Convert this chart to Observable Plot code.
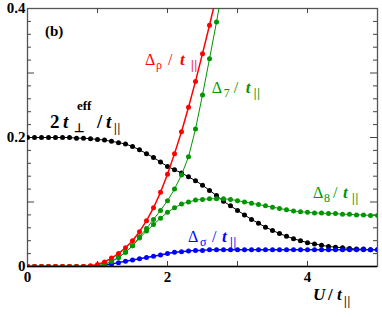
<!DOCTYPE html>
<html><head><meta charset="utf-8">
<script src="https://cdn.jsdelivr.net/npm/d3@7"></script>
<script src="https://cdn.jsdelivr.net/npm/@observablehq/plot@0.6"></script>
<style>body{margin:0;background:#fff}</style>
</head><body><div id="chart"></div>
<script>
// U / t_par grid
const U = [0.0,0.1,0.2,0.3,0.4,0.5,0.6,0.7,0.8,0.9,1.0,1.1,1.2,1.3,1.4,1.5,1.6,1.7,1.8,1.9,2.0,2.1,2.2,2.3,2.4,2.5,2.6,2.7,2.8,2.9,3.0,3.1,3.2,3.3,3.4,3.5,3.6,3.7,3.8,3.9,4.0,4.1,4.2,4.3,4.4,4.5,4.6,4.7,4.8,4.9,5.0];
// 2 t_perp^eff / t_par
const tEff = [0.200,0.200,0.200,0.200,0.200,0.200,0.200,0.199,0.199,0.198,0.197,0.196,0.194,0.192,0.190,0.186,0.181,0.175,0.169,0.162,0.155,0.150,0.145,0.139,0.133,0.126,0.118,0.110,0.101,0.094,0.087,0.080,0.073,0.067,0.061,0.056,0.051,0.047,0.043,0.040,0.037,0.035,0.033,0.031,0.030,0.029,0.028,0.027,0.027,0.026,0.026];
// Delta_sigma
const dSigma = [0,0,0,0,0,0,0,0,0,0,0.001,0.002,0.004,0.006,0.008,0.010,0.012,0.014,0.016,0.018,0.020,0.022,0.023,0.024,0.025,0.025,0.026,0.026,0.026,0.026,0.026,0.026,0.026,0.026,0.026,0.026,0.026,0.026,0.026,0.026,0.026,0.026,0.026,0.026,0.026,0.026,0.026,0.026,0.026,0.026,0.026];
// Delta_rho (continues above the frame)
const dRho = [0,0,0,0,0,0,0,0,0,0.001,0.003,0.007,0.013,0.020,0.029,0.040,0.054,0.071,0.091,0.115,0.143,0.175,0.209,0.247,0.287,0.330,0.374,0.420,0.468];
// Delta_7 (continues above the frame)
const d7 = [0,0,0,0,0,0,0,0,0,0,0.001,0.003,0.008,0.014,0.022,0.032,0.046,0.059,0.073,0.087,0.102,0.120,0.142,0.170,0.213,0.266,0.322,0.379,0.440,0.500];
// Delta_8
const d8 = [0,0,0,0,0,0,0,0,0,0,0.001,0.003,0.008,0.014,0.022,0.032,0.044,0.055,0.065,0.075,0.084,0.091,0.097,0.100,0.103,0.104,0.105,0.105,0.105,0.104,0.102,0.100,0.098,0.096,0.094,0.092,0.090,0.088,0.086,0.085,0.084,0.083,0.083,0.082,0.082,0.081,0.081,0.080,0.080,0.079,0.079];

const xLabelTicks = [0, 2, 4];
const xTicks = [1, 2, 3, 4];
const yLabelTicks = [0, 0.2, 0.4];
const yMajorTicks = [0.1, 0.2, 0.3];
const yMinorTicks = [0.02,0.04,0.06,0.08,0.12,0.14,0.16,0.18,0.22,0.24,0.26,0.28,0.32,0.34,0.36,0.38];

const W = 382, H = 317, mL = 27, mR = 5, mT = 8, mB = 51;
const innerW = W - mL - mR, innerH = H - mT - mB;
const GREEN = "#009600";
const SERIF = "Liberation Serif";
const rows = vals => vals.map((v, i) => ({U: U[i], v}));

function series(vals, color, sw) {
  return [
    Plot.line(rows(vals), {x: "U", y: "v", stroke: color, strokeWidth: sw, clip: true}),
    Plot.dot(rows(vals), {x: "U", y: "v", r: 2.5, fill: color, stroke: "none", clip: true})
  ];
}

const chart = Plot.plot({
  width: W, height: H,
  marginLeft: mL, marginRight: mR, marginTop: mT, marginBottom: mB,
  style: "font-family: 'Liberation Serif', serif; background: white; color: black;",
  x: {domain: [0, 5]},
  y: {domain: [0, 0.4]},
  marks: [
    Plot.frame({stroke: "#555", strokeWidth: 1.3}),
    Plot.tickX(xTicks, {x: d => d, insetTop: innerH - 5, stroke: "#444"}),
    Plot.tickX(xTicks, {x: d => d, insetBottom: innerH - 5, stroke: "#444"}),
    Plot.tickY(yMinorTicks, {y: d => d, insetRight: innerW - 4, stroke: "#444"}),
    Plot.tickY(yMinorTicks, {y: d => d, insetLeft: innerW - 4, stroke: "#444"}),
    Plot.tickY(yMajorTicks, {y: d => d, insetRight: innerW - 7, stroke: "#444"}),
    Plot.tickY(yMajorTicks, {y: d => d, insetLeft: innerW - 7, stroke: "#444"}),
    Plot.axisX(xLabelTicks, {tickSize: 0, tickPadding: 5, fontSize: 15, fontWeight: "bold", fontFamily: SERIF, label: null, tickFormat: d => String(d)}),
    Plot.axisY(yLabelTicks, {tickSize: 0, tickPadding: 2, fontSize: 15, fontWeight: "bold", fontFamily: SERIF, label: null, tickFormat: d => d === 0 ? "0" : d.toFixed(1)}),
    ...series(tEff, "black", 1),
    ...series(dSigma, "#0000ff", 1.5),
    ...series(d8, GREEN, 1),
    ...series(d7, GREEN, 1),
    ...series(dRho, "#ff0000", 1.5),
    Plot.ruleY([0], {stroke: "black", strokeWidth: 1.6})
  ]
});
document.getElementById("chart").append(chart);

const svg = d3.select(chart);
const sx = chart.scale("x"), sy = chart.scale("y");
// rich label: one text, each piece placed at an offset from the anchor
function label(u, v, color, size, parts) {
  const x0 = sx.apply(u), y0 = sy.apply(v);
  const t = svg.append("text")
    .attr("fill", color).attr("font-family", SERIF)
    .attr("text-anchor", "start").attr("font-size", size);
  for (const p of parts) {
    const ts = t.append("tspan").text(p.t)
      .attr("x", x0 + (p.ox || 0)).attr("y", y0 + (p.oy || 0));
    if (p.b) ts.attr("font-weight", "bold");
    if (p.i) ts.attr("font-style", "italic");
    if (p.fs) ts.attr("font-size", p.fs);
    if (p.ls != null) ts.attr("letter-spacing", p.ls);
  }
}
const deltaParts = (sub, o) => [
  {t: "Δ"},
  {t: sub, fs: 12, oy: 4, ox: o[0]},
  {t: "/", ox: o[1]},
  {t: "t", b: true, i: true, fs: 17, ox: o[2]},
  {t: "||", b: true, fs: 12, oy: 4, ox: o[3], ls: 0.8}
];
label(0.257, 0.3566, "black", 15, [{t: "(b)", b: true}]);
label(1.686, 0.3116, "#ff0000", 16, deltaParts("ρ", [11, 23, 35, 46]));
label(2.639, 0.2682, GREEN, 16, deltaParts("7", [12, 22, 34, 42]));
label(4.086, 0.1054, GREEN, 16, deltaParts("8", [11, 20, 30, 39]));
label(2.300, 0.0372, "#0000ff", 16, deltaParts("σ", [12, 24, 34, 42]));
label(0.329, 0.2140, "black", 19, [
  {t: "2", b: true},
  {t: "t", b: true, i: true, ox: 13},
  {t: "⊥", b: true, fs: 12, ox: 24, oy: 4},
  {t: "eff", b: true, fs: 13, ox: 27, oy: -18},
  {t: "/", b: true, ox: 47},
  {t: "t", b: true, i: true, ox: 56},
  {t: "||", b: true, fs: 12, ox: 64, oy: 4, ls: 0.8}
]);
label(4.086, -0.0527, "black", 17, [
  {t: "U", b: true, i: true},
  {t: "/", b: true, ox: 15},
  {t: "t", b: true, i: true, ox: 24},
  {t: "||", b: true, fs: 12, ox: 31, oy: 5, ls: 0.8}
]);
</script>
</body></html>
